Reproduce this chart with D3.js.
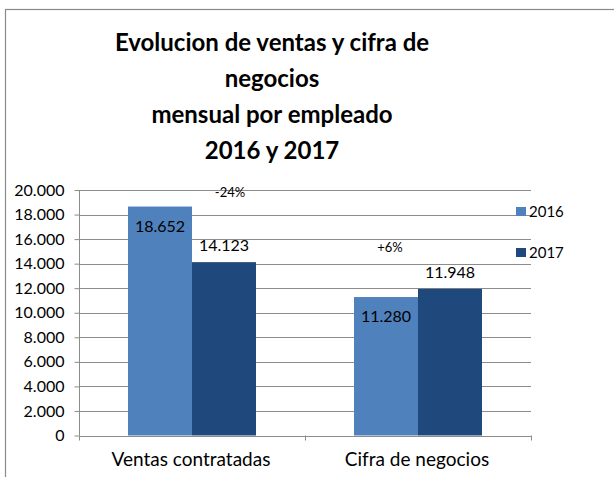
<!DOCTYPE html>
<html>
<head>
<meta charset="utf-8">
<script src="https://cdn.jsdelivr.net/npm/d3@7"></script>
<style>
  body { margin: 0; background: #fff; }
  text { font-family: Lato, "Open Sans", sans-serif; fill: #000; }
</style>
</head>
<body>
<script>
var categories = ["Ventas contratadas", "Cifra de negocios"];
var years = ["2016", "2017"];
var values2016 = [18652, 11280];
var values2017 = [14123, 11948];
var changeLabels = ["-24%", "+6%"];
var titleLines = ["Evolucion de ventas y cifra de", "negocios", "mensual por empleado", "2016 y 2017"];
var yTicks = [0, 2000, 4000, 6000, 8000, 10000, 12000, 14000, 16000, 18000, 20000];

var width = 614,
	height = 477;

var colors = { "2016": "#4f81bd", "2017": "#1f497d" };

var svg = d3.select("body").append("svg")
	.attr("width", width)
	.attr("height", height);

// chart border (only top and left show in the frame)
svg.append("rect")
	.attr("x", 5.5).attr("y", 9.5)
	.attr("width", 640).attr("height", 500)
	.attr("fill", "none")
	.attr("stroke", "#8a8a8a")
	.attr("stroke-width", 1.2);

// title
svg.append("g").selectAll("text")
	.data(titleLines)
	.enter().append("text")
	.attr("x", 272)
	.attr("y", function(d, i) { return 51 + i * 36; })
	.attr("text-anchor", "middle")
	.style("font-size", "24px")
	.style("font-weight", "bold")
	.text(function(d) { return d; });

var plotLeft = 79, plotRight = 531, plotTop = 190, plotBottom = 435.5;

var x = d3.scaleBand()
	.domain(categories)
	.range([plotLeft, plotRight])
	.paddingInner(0)
	.paddingOuter(0);

var x1 = d3.scaleBand()
	.domain(years)
	.range([0, x.bandwidth()])
	.paddingOuter(0.766);

var y = d3.scaleLinear()
	.domain([0, 20000])
	.range([plotBottom, plotTop]);

var fmt = function(d) { return d3.format(",")(d).replace(/,/g, "."); };

// gridlines
svg.append("g").selectAll("line")
	.data(yTicks.slice(1))
	.enter().append("line")
	.attr("x1", plotLeft).attr("x2", plotRight)
	.attr("y1", function(d) { return Math.round(y(d)) + 0.5; })
	.attr("y2", function(d) { return Math.round(y(d)) + 0.5; })
	.attr("stroke", "#8c8c8c")
	.attr("stroke-width", 1);

// y axis
var yAxis = svg.append("g")
	.attr("transform", "translate(" + (plotLeft + 0.5) + ",0)")
	.call(d3.axisLeft(y).tickValues(yTicks).tickSize(5).tickPadding(10).tickFormat(fmt));
yAxis.select(".domain").attr("stroke", "#8c8c8c").attr("d", "M0," + plotBottom + "V" + plotTop);
yAxis.selectAll(".tick line").attr("stroke", "#8c8c8c");
yAxis.selectAll(".tick text").style("font-size", "16px").style("font-family", "Lato, sans-serif");

// x axis
var xAxisG = svg.append("g");
xAxisG.append("line")
	.attr("x1", plotLeft).attr("x2", plotRight)
	.attr("y1", Math.round(plotBottom) + 0.5).attr("y2", Math.round(plotBottom) + 0.5)
	.attr("stroke", "#8c8c8c");
xAxisG.selectAll(".xt")
	.data([plotLeft, plotLeft + x.bandwidth(), plotRight])
	.enter().append("line")
	.attr("x1", function(d) { return Math.round(d) + 0.5; })
	.attr("x2", function(d) { return Math.round(d) + 0.5; })
	.attr("y1", plotBottom).attr("y2", plotBottom + 5)
	.attr("stroke", "#8c8c8c");
xAxisG.selectAll("text")
	.data(categories)
	.enter().append("text")
	.attr("x", function(d) { return x(d) + x.bandwidth() / 2 - 1; })
	.attr("y", 466)
	.attr("text-anchor", "middle")
	.style("font-size", "19px")
	.text(function(d) { return d; });

// bars
var rows = [];
for (var i = 0; i < categories.length; i++) {
	rows.push({ cat: categories[i], year: "2016", value: values2016[i], inside: true });
	rows.push({ cat: categories[i], year: "2017", value: values2017[i], inside: false });
}

svg.append("g").selectAll("rect")
	.data(rows)
	.enter().append("rect")
	.attr("x", function(d) { return x(d.cat) + x1(d.year); })
	.attr("y", function(d) { return y(d.value); })
	.attr("width", x1.bandwidth())
	.attr("height", function(d) { return plotBottom - y(d.value); })
	.attr("fill", function(d) { return colors[d.year]; });

// data labels
svg.append("g").selectAll("text")
	.data(rows)
	.enter().append("text")
	.attr("x", function(d) { return x(d.cat) + x1(d.year) + x1.bandwidth() / 2; })
	.attr("y", function(d) { return d.inside ? y(d.value) + 25 : y(d.value) - 11; })
	.attr("text-anchor", "middle")
	.style("font-size", "16px")
	.text(function(d) { return fmt(d.value); });

// change labels: -24% near top of first group, +6% above second group
var changeAnchor = [
	{ year: "2017", dx: 6, value: 19450 },
	{ year: "2016", dx: 4, value: 14950 }
];
svg.append("g").selectAll("text")
	.data(changeLabels)
	.enter().append("text")
	.attr("x", function(d, i) {
		var a = changeAnchor[i];
		return x(categories[i]) + x1(a.year) + x1.bandwidth() / 2 + a.dx;
	})
	.attr("y", function(d, i) { return y(changeAnchor[i].value); })
	.attr("text-anchor", "middle")
	.style("font-size", "13px")
	.text(function(d) { return d; });

// legend
var legend = svg.append("g").selectAll("g")
	.data(years)
	.enter().append("g")
	.attr("transform", function(d, i) { return "translate(516," + (207 + i * 41) + ")"; });
legend.append("rect")
	.attr("width", 10).attr("height", 9)
	.attr("fill", function(d) { return colors[d]; });
legend.append("text")
	.attr("x", 13).attr("y", 10)
	.style("font-size", "15px")
	.text(function(d) { return d; });
</script>
</body>
</html>
